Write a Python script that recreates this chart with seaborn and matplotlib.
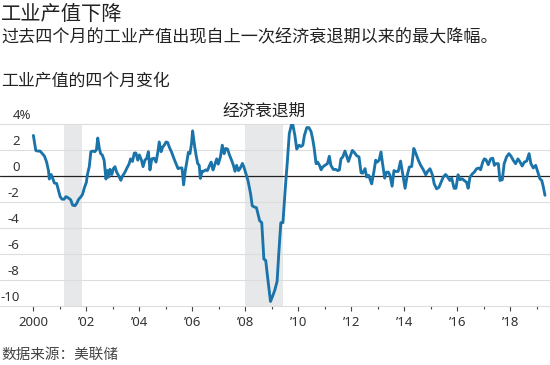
import matplotlib
matplotlib.use('Agg')
import matplotlib.pyplot as plt
import matplotlib.transforms as mtransforms
import pandas as pd
import seaborn as sns

# ---------------- data ----------------
years = [
    2000.00, 2000.09, 2000.15, 2000.25, 2000.34, 2000.42, 2000.50, 2000.57, 2000.60, 2000.67,
    2000.73, 2000.79, 2000.88, 2000.94, 2001.01, 2001.08, 2001.16, 2001.23, 2001.32, 2001.41,
    2001.48, 2001.57, 2001.64, 2001.71, 2001.80, 2001.86, 2001.92, 2002.00, 2002.04, 2002.11,
    2002.17, 2002.24, 2002.32, 2002.38, 2002.43, 2002.49, 2002.54, 2002.60, 2002.67, 2002.74,
    2002.79, 2002.84, 2002.89, 2002.96, 2003.02, 2003.08, 2003.14, 2003.22, 2003.30, 2003.37,
    2003.45, 2003.52, 2003.61, 2003.67, 2003.74, 2003.81, 2003.87, 2003.94, 2004.00, 2004.08,
    2004.14, 2004.21, 2004.28, 2004.34, 2004.40, 2004.47, 2004.55, 2004.63, 2004.70, 2004.75,
    2004.82, 2004.88, 2004.94, 2005.01, 2005.07, 2005.13, 2005.22, 2005.31, 2005.38, 2005.46,
    2005.53, 2005.61, 2005.67, 2005.73, 2005.79, 2005.85, 2005.91, 2005.97, 2006.01, 2006.08,
    2006.14, 2006.20, 2006.26, 2006.30, 2006.37, 2006.43, 2006.50, 2006.57, 2006.65, 2006.71,
    2006.78, 2006.84, 2006.92, 2006.98, 2007.06, 2007.13, 2007.20, 2007.26, 2007.33, 2007.40,
    2007.48, 2007.55, 2007.61, 2007.67, 2007.74, 2007.80, 2007.89, 2007.95,
    2008.03, 2008.10, 2008.20, 2008.26, 2008.34, 2008.42, 2008.48, 2008.54, 2008.62, 2008.70,
    2008.77, 2008.83, 2008.89, 2008.95, 2009.02, 2009.11, 2009.20, 2009.26, 2009.34, 2009.42,
    2009.51, 2009.58, 2009.66, 2009.74, 2009.79,
    2009.87, 2009.94, 2010.03, 2010.10, 2010.17, 2010.23, 2010.32, 2010.40, 2010.48, 2010.54,
    2010.60, 2010.67, 2010.73, 2010.80, 2010.86, 2010.92, 2011.00, 2011.10, 2011.17, 2011.23,
    2011.32, 2011.41, 2011.49, 2011.55, 2011.61, 2011.68, 2011.76, 2011.82, 2011.89, 2011.95,
    2012.04, 2012.11, 2012.20, 2012.29, 2012.37, 2012.43, 2012.52, 2012.58, 2012.66, 2012.70,
    2012.77, 2012.85, 2012.92, 2012.98, 2013.05, 2013.12, 2013.18, 2013.26, 2013.33, 2013.40,
    2013.46, 2013.54, 2013.61, 2013.69, 2013.77, 2013.86, 2013.94, 2014.03, 2014.11, 2014.19,
    2014.28, 2014.36, 2014.44, 2014.53, 2014.62, 2014.72, 2014.81, 2014.88, 2014.97, 2015.06,
    2015.13, 2015.22, 2015.31, 2015.39, 2015.47, 2015.56, 2015.64, 2015.72, 2015.79, 2015.88,
    2015.95, 2016.03, 2016.10, 2016.19, 2016.26, 2016.35, 2016.41, 2016.48, 2016.57, 2016.64,
    2016.73, 2016.82, 2016.88, 2016.96, 2017.02, 2017.08, 2017.17, 2017.26, 2017.34, 2017.40,
    2017.46, 2017.55, 2017.61, 2017.70, 2017.77, 2017.86, 2017.95, 2018.03, 2018.11, 2018.20,
    2018.29, 2018.37, 2018.45, 2018.53, 2018.62, 2018.71, 2018.78, 2018.87, 2018.96, 2019.04,
    2019.12, 2019.19, 2019.25, 2019.31,
]
values = [
    3.10, 1.95, 1.90, 1.90, 1.70, 1.50, 1.05, 0.40, -0.25, 0.10,
    -0.20, -0.55, -0.60, -1.05, -1.60, -1.80, -1.80, -1.60, -1.70, -1.85,
    -2.25, -2.30, -2.10, -1.80, -1.60, -1.40, -0.95, -0.50, 0.10, 0.70,
    1.85, 1.90, 1.85, 2.00, 2.90, 2.10, 1.70, 1.60, 1.20, -0.25,
    0.40, -0.10, 0.50, 0.10, 0.55, 0.70, 0.30, 0.00, -0.35, 0.00,
    0.25, 0.55, 0.90, 1.30, 1.10, 1.75, 1.75, 1.20, 1.60, 1.20,
    0.70, 1.20, 1.35, 1.85, 0.45, 1.30, 1.35, 1.05, 1.85, 2.60,
    1.85, 2.20, 2.35, 2.60, 2.55, 2.20, 1.80, 1.30, 0.95, 0.55,
    0.60, 0.60, -0.70, 0.35, 1.05, 1.80, 1.70, 2.50, 3.45, 2.35,
    1.60, 0.95, 0.80, -0.20, 0.35, 0.35, 0.45, 0.40, 0.80, 1.05,
    0.45, 0.80, 1.30, 0.90, 1.45, 2.35, 1.70, 2.10, 2.05, 1.60,
    1.20, 0.80, 0.35, 0.80, 0.40, 0.55, 0.95, 0.65,
    0.10, -0.36, -1.40, -2.30, -2.40, -2.45, -2.95, -3.45, -3.60, -6.40,
    -6.50, -7.60, -8.60, -9.65, -9.30, -8.80, -8.10, -6.05, -3.60, -3.60,
    -0.90, 0.93, 3.25, 3.90, 3.95,
    3.10, 2.05, 2.35, 2.25, 2.35, 3.10, 3.70, 3.70, 3.40, 2.85,
    2.10, 0.93, 1.05, 0.80, 0.46, 0.67, 0.80, 0.93, 1.50, 0.80,
    0.49, 0.49, 0.40, 0.45, 1.30, 1.45, 1.90, 1.55, 1.10, 1.45,
    1.95, 1.80, 1.55, 1.45, 0.23, 0.20, 0.55, -0.10, 0.03, -0.23,
    -0.62, 0.28, 1.20, 1.05, 1.20, 1.83, 0.93, -0.18, 0.28, 0.28,
    0.03, -0.80, 0.40, 0.33, 0.33, 1.13, 0.15, -0.96, 0.03, 0.67,
    0.72, 2.10, 1.70, 1.20, 0.80, 0.46, 0.08, 0.33, 0.54, 0.08,
    -0.62, -1.00, -0.88, -0.50, -0.10, 0.10, -0.10, -0.36, -0.18, -0.96,
    -0.96, 0.08, -0.30, -0.23, -0.36, -0.50, -0.96, -0.10, 0.15, 0.28,
    0.54, 0.60, 0.46, 1.05, 1.30, 1.25, 0.85, 1.30, 1.35, 0.80,
    0.93, 0.93, -0.36, -0.30, 0.93, 1.45, 1.70, 1.50, 1.20, 0.93,
    1.30, 1.05, 0.75, 1.05, 1.13, 1.70, 0.93, 0.60, 0.80, 0.28,
    -0.23, -0.36, -0.88, -1.50,
]
recessions = [(2001.17, 2001.82), (2007.97, 2009.43)]
recession_label = '经济衰退期'

xtick_major = [2000, 2002, 2004, 2006, 2008, 2010, 2012, 2014, 2016, 2018]
xtick_labels = ['2000', '\u201902', '\u201904', '\u201906', '\u201908',
                '\u201910', '\u201912', '\u201914', '\u201916', '\u201918']
xtick_minor = [2001, 2003, 2005, 2007, 2009, 2011, 2013, 2015, 2017, 2019]
ytick_values = [4, 2, 0, -2, -4, -6, -8, -10]
ytick_labels = ['4%', '2', '0', '-2', '-4', '-6', '-8', '-10']

title = '工业产值下降'
subtitle = '过去四个月的工业产值出现自上一次经济衰退期以来的最大降幅。'
chart_label = '工业产值的四个月变化'
source = '数据来源：美联储'

# ---------------- styling ----------------
sns.set_theme(style='white')
plt.rcParams['font.family'] = ['Noto Sans CJK SC', 'DejaVu Sans']

W, H = 550, 365
fig = plt.figure(figsize=(W / 100, H / 100), dpi=100)
ax_top, ax_bot = 123.7, 306.0
ax = fig.add_axes([0.0, 1 - ax_bot / H, 1.0, (ax_bot - ax_top) / H])

line_color = '#1a74a9'
df = pd.DataFrame({'year': years, 'value': values})
sns.lineplot(data=df, x='year', y='value', ax=ax, color=line_color,
             linewidth=2.05, zorder=4, estimator=None)

for s, e in recessions:
    ax.axvspan(s, e, color='#e7e8ea', lw=0, zorder=0.5)

for v in ytick_values:
    if v == 0:
        ax.axhline(v, color='#222222', lw=0.9, zorder=3)
    else:
        ax.axhline(v, color='#dddddd', lw=0.8, zorder=1, clip_on=False)

ax.set_xlim(1998.74, 2019.50)
ax.set_ylim(-10, 4)
for sp in ax.spines.values():
    sp.set_visible(False)
ax.set_xlabel('')
ax.set_ylabel('')
ax.set_yticks([])

ax.set_xticks(xtick_major)
ax.set_xticklabels(xtick_labels, fontsize=9.5, color='#333333', family=['Noto Sans', 'DejaVu Sans'])
ax.set_xticks(xtick_minor, minor=True)
ax.tick_params(axis='x', which='major', direction='out', length=3.6, width=0.8,
               color='#444444', pad=3.5, bottom=True)
ax.tick_params(axis='x', which='minor', direction='out', length=2.4, width=0.8,
               color='#444444', bottom=True)

# y labels above the gridlines
trans = mtransforms.blended_transform_factory(ax.transAxes, ax.transData)
off = mtransforms.ScaledTranslation(0, 2 / 100, fig.dpi_scale_trans)
for v, lab in zip(ytick_values, ytick_labels):
    if lab.endswith('%'):
        ax.text(12.5 / W, v, lab, transform=trans + off, ha='left', va='bottom',
                fontsize=9.5, color='#333333', family=['Noto Sans', 'DejaVu Sans'])
    else:
        ax.text(19.5 / W, v, lab, transform=trans + off, ha='right', va='bottom',
                fontsize=9.5, color='#333333', family=['Noto Sans', 'DejaVu Sans'])

# recession annotation
rec_mid = (recessions[1][0] + recessions[1][1]) / 2
ax.annotate(recession_label, xy=(rec_mid, 1.0), xycoords=('data', 'axes fraction'),
            xytext=(0, 2.5), textcoords='offset points', ha='center', va='bottom',
            fontsize=12, color='#222222')

# titles and source
fig.text(1 / W, 1 - 14.5 / H, title, ha='left', va='center', fontsize=14.6, color='#222222')
fig.text(1 / W, 1 - 37.5 / H, subtitle, ha='left', va='center', fontsize=12.3, color='#222222')
fig.text(1 / W, 1 - 81 / H, chart_label, ha='left', va='center', fontsize=12.2, color='#222222')
fig.text(1 / W, 1 - 355 / H, source, ha='left', va='center', fontsize=10.5, color='#444444')

fig.savefig('out.png', dpi=100)
